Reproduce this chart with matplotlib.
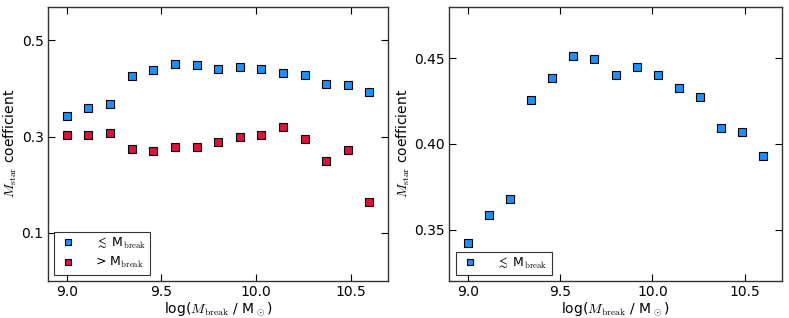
import matplotlib
matplotlib.use('Agg')
import matplotlib.pyplot as plt
import numpy as np

plt.rcParams.update({
    'font.family': 'DejaVu Sans',
    'font.size': 10,
    'mathtext.fontset': 'cm',
    'xtick.direction': 'in',
    'ytick.direction': 'in',
    'xtick.top': True,
    'ytick.right': True,
    'xtick.major.size': 5,
    'ytick.major.size': 5,
    'axes.edgecolor': '#333333',
    'axes.linewidth': 1.0,
})

# log(M_break) bins
log_mbreak = [9.0, 9.114, 9.229, 9.343, 9.457, 9.571, 9.686, 9.8,
              9.914, 10.029, 10.143, 10.257, 10.371, 10.486, 10.6]

# Mstar coefficient for galaxies below / above the break
coef_below = [0.342, 0.3586, 0.3679, 0.4254, 0.4383, 0.4514, 0.4492, 0.4399,
              0.4449, 0.4399, 0.4328, 0.4272, 0.4093, 0.4069, 0.3931]
coef_above = [0.3042, 0.3035, 0.3076, 0.275, 0.2708, 0.2785, 0.2778, 0.2882,
              0.2993, 0.3035, 0.3194, 0.2951, 0.2493, 0.2715, 0.1639]

BLUE = '#1e90ff'
RED = '#dc143c'
MS = 5.6

fig = plt.figure(figsize=(7.89, 3.18), dpi=100)
ax1 = fig.add_axes([0.0605, 0.1164, 0.4318, 0.8626])
ax2 = fig.add_axes([0.5695, 0.1164, 0.4213, 0.8626])

lab_below = r'$\lesssim$ M$_{\rm break}$'
lab_above = r'> M$_{\rm break}$'

ax1.plot(log_mbreak, coef_below, 's', color=BLUE, mec='k', mew=0.8, ms=MS, label=lab_below)
ax1.plot(log_mbreak, coef_above, 's', color=RED, mec='k', mew=0.8, ms=MS, label=lab_above)
ax1.set_xlim(8.9, 10.7)
ax1.set_ylim(0.0, 0.57)
ax1.set_yticks([0.1, 0.3, 0.5])

ax2.plot(log_mbreak, coef_below, 's', color=BLUE, mec='k', mew=0.8, ms=MS, label=lab_below)
ax2.set_xlim(8.9, 10.7)
ax2.set_ylim(0.32, 0.48)
ax2.set_yticks([0.35, 0.40, 0.45])
ax2.set_yticklabels(['0.35', '0.40', '0.45'])

for ax in (ax1, ax2):
    ax.set_xticks([9.0, 9.5, 10.0, 10.5])
    ax.set_xticklabels(['9.0', '9.5', '10.0', '10.5'])
    ax.set_xlabel(r'log($M_{\rm break}$ / M$_\odot$)', labelpad=1)
    ax.set_ylabel(r'$M_{\rm star}$ coefficient', labelpad=2)
    ax.tick_params(pad=3)
    leg = ax.legend(loc='lower left', numpoints=1, fontsize=9, markerscale=0.8,
                    frameon=True, fancybox=False, handlelength=1.6, handletextpad=1.3,
                    borderaxespad=0.5, borderpad=0.35, labelspacing=0.4)
    leg.get_frame().set_edgecolor('k')
    leg.get_frame().set_linewidth(0.8)

fig.savefig('out.png', dpi=100)
